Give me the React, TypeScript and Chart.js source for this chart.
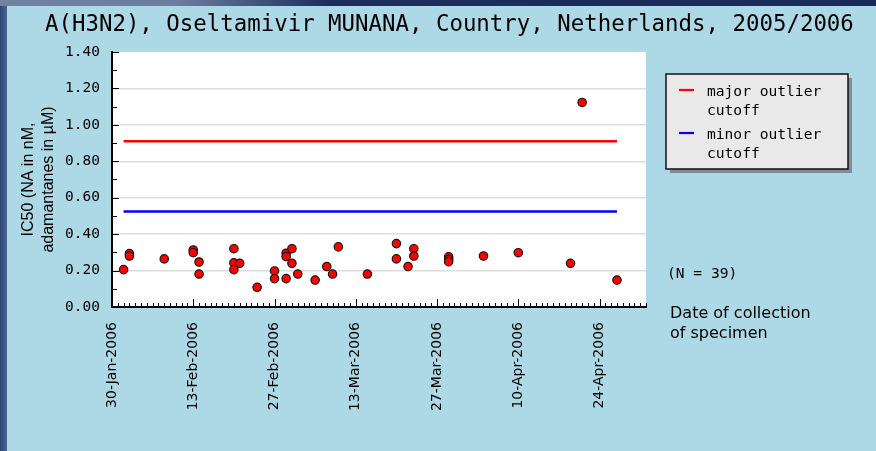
import React, { useEffect, useRef } from "react";
import { Chart, registerables } from "chart.js";

Chart.register(...registerables);

const chartTitle = "A(H3N2), Oseltamivir MUNANA, Country, Netherlands, 2005/2006";
const axisStartDate = "2006-01-30";
const axisEndDate = "2006-05-02";
const majorTickEveryDays = 14;
const xTickLabels = [
  "30-Jan-2006",
  "13-Feb-2006",
  "27-Feb-2006",
  "13-Mar-2006",
  "27-Mar-2006",
  "10-Apr-2006",
  "24-Apr-2006",
];
const collectionDates = [
  "2006-02-01", "2006-02-02", "2006-02-02", "2006-02-08", "2006-02-13",
  "2006-02-13", "2006-02-14", "2006-02-14", "2006-02-20", "2006-02-20",
  "2006-02-20", "2006-02-21", "2006-02-24", "2006-02-27", "2006-02-27",
  "2006-03-01", "2006-03-01", "2006-03-01", "2006-03-02", "2006-03-02",
  "2006-03-03", "2006-03-06", "2006-03-08", "2006-03-09", "2006-03-10",
  "2006-03-15", "2006-03-20", "2006-03-20", "2006-03-22", "2006-03-23",
  "2006-03-23", "2006-03-29", "2006-03-29", "2006-03-29", "2006-04-04",
  "2006-04-10", "2006-04-19", "2006-04-21", "2006-04-27",
];
const ic50Values = [
  0.205, 0.293, 0.28, 0.264, 0.313,
  0.298, 0.247, 0.181, 0.32, 0.242,
  0.205, 0.24, 0.108, 0.198, 0.156,
  0.295, 0.277, 0.156, 0.32, 0.24,
  0.181, 0.148, 0.222, 0.181, 0.33,
  0.181, 0.348, 0.264, 0.222, 0.32,
  0.28, 0.275, 0.262, 0.249, 0.28,
  0.298, 0.24, 1.123, 0.148,
];
const majorOutlierCutoff = 0.91;
const minorOutlierCutoff = 0.524;
const yMin = 0;
const yMax = 1.4;
const yMinorStep = 0.1;
const yAxisTitle = ["IC50 (NA in nM,", "adamantanes in \u00b5M)"];
const xAxisTitle = ["Date of collection", "of specimen"];
const legendLabels = ["major outlier cutoff", "minor outlier cutoff"];

const DAY_MS = 86400000;
const toDay = (iso: string) =>
  (Date.parse(iso + "T00:00:00Z") - Date.parse(axisStartDate + "T00:00:00Z")) / DAY_MS;

const MONO = '"DejaVu Sans Mono", monospace';
const SANS = '"DejaVu Sans", sans-serif';

function splitLabel(label: string): string[] {
  const i = label.lastIndexOf(" ");
  return i > 0 ? [label.slice(0, i), label.slice(i + 1)] : [label];
}

const decorPlugin = {
  id: "decor",
  beforeDraw(chart: any) {
    const { ctx, chartArea: a } = chart;
    ctx.save();
    ctx.fillStyle = "#ffffff";
    ctx.fillRect(a.left, a.top, a.right - a.left, a.bottom - a.top);
    ctx.restore();
  },
  afterDraw(chart: any) {
    const { ctx, chartArea: a, scales } = chart;
    const xs = scales.x;
    const ys = scales.y;
    ctx.save();
    // inward tick marks
    ctx.strokeStyle = "#000";
    ctx.lineWidth = 1;
    ctx.beginPath();
    for (let d = xs.min; d <= xs.max; d++) {
      const px = Math.round(xs.getPixelForValue(d)) + 0.5;
      const len = d % majorTickEveryDays === 0 ? 8 : 4;
      ctx.moveTo(px, a.bottom);
      ctx.lineTo(px, a.bottom - len);
    }
    const nY = Math.round((yMax - yMin) / yMinorStep);
    for (let i = 0; i <= nY; i++) {
      const v = yMin + i * yMinorStep;
      const py = Math.round(ys.getPixelForValue(v)) + 0.5;
      const len = i % 2 === 0 ? 7 : 5;
      ctx.moveTo(a.left, py);
      ctx.lineTo(a.left + len, py);
    }
    ctx.stroke();

    // title
    ctx.fillStyle = "#000";
    ctx.font = `22.4px ${MONO}`;
    ctx.textBaseline = "alphabetic";
    ctx.textAlign = "left";
    ctx.fillText(chartTitle, 45, 31);

    // legend box
    const bx = 666, by = 74, bw = 182, bh = 95;
    ctx.fillStyle = "#7d8e99";
    ctx.fillRect(bx + 4, by + 4, bw, bh);
    ctx.fillStyle = "#e9e9e9";
    ctx.fillRect(bx, by, bw, bh);
    ctx.strokeStyle = "#111";
    ctx.lineWidth = 1.5;
    ctx.strokeRect(bx, by, bw, bh);

    const ds = chart.data.datasets.slice(1);
    ctx.font = `14.6px ${MONO}`;
    ds.forEach((d: any, i: number) => {
      const base = by + 22 + i * 43;
      ctx.strokeStyle = d.borderColor;
      ctx.lineWidth = 2.2;
      ctx.beginPath();
      ctx.moveTo(679, base - 6);
      ctx.lineTo(694, base - 6);
      ctx.stroke();
      ctx.fillStyle = "#000";
      splitLabel(d.label).forEach((line, j) => {
        ctx.fillText(line, 707, base + j * 19);
      });
    });

    // N count
    ctx.fillStyle = "#000";
    ctx.font = `14.6px ${MONO}`;
    ctx.fillText(`(N = ${chart.data.datasets[0].data.length})`, 667, 278);

    // x axis title
    ctx.font = `16px ${SANS}`;
    xAxisTitle.forEach((line, j) => ctx.fillText(line, 670, 318 + j * 20));
    ctx.restore();
  },
};

export default function App() {
  const ref = useRef<HTMLCanvasElement>(null);

  useEffect(() => {
    if (!ref.current) return;
    const days = collectionDates.map(toDay);
    const points = days.map((d, i) => ({ x: d, y: ic50Values[i] }));
    const firstDay = Math.min(...days);
    const lastDay = Math.max(...days);
    const endDay = toDay(axisEndDate);

    const chart = new Chart(ref.current, {
      type: "scatter",
      data: {
        datasets: [
          {
            label: "specimens",
            data: points,
            pointRadius: 4.2,
            pointBackgroundColor: "#ff0000",
            pointBorderColor: "#151515",
            pointBorderWidth: 1.2,
            showLine: false,
            order: 0,
          },
          {
            label: legendLabels[0],
            data: [
              { x: firstDay, y: majorOutlierCutoff },
              { x: lastDay, y: majorOutlierCutoff },
            ],
            showLine: true,
            borderColor: "#ff0000",
            borderWidth: 2.4,
            pointRadius: 0,
            order: 1,
          },
          {
            label: legendLabels[1],
            data: [
              { x: firstDay, y: minorOutlierCutoff },
              { x: lastDay, y: minorOutlierCutoff },
            ],
            showLine: true,
            borderColor: "#0000ff",
            borderWidth: 2.4,
            pointRadius: 0,
            order: 2,
          },
        ],
      },
      options: {
        animation: false,
        responsive: false,
        devicePixelRatio: 1,
        layout: { padding: { top: 52, right: 230, left: 0, bottom: 0 } },
        plugins: {
          legend: { display: false },
          tooltip: { enabled: false },
          title: { display: false },
        },
        scales: {
          x: {
            type: "linear",
            min: 0,
            max: endDay,
            afterBuildTicks: (scale: any) => {
              const t = [];
              for (let d = 0; d <= endDay; d += majorTickEveryDays) t.push({ value: d });
              scale.ticks = t;
            },
            afterFit: (scale: any) => {
              scale.height = 144;
            },
            ticks: {
              autoSkip: false,
              maxRotation: 90,
              minRotation: 90,
              padding: 15,
              color: "#000",
              font: { family: "DejaVu Sans", size: 14 },
              callback: (v: any) => {
                const i = Math.round(Number(v) / majorTickEveryDays);
                return xTickLabels[i] ?? "";
              },
            },
            grid: { drawOnChartArea: false, drawTicks: false },
            border: { color: "#000", width: 2 },
          },
          y: {
            min: yMin,
            max: yMax,
            afterBuildTicks: (scale: any) => {
              const t = [];
              const n = Math.round((yMax - yMin) / yMinorStep);
              for (let i = 0; i <= n; i += 2) t.push({ value: yMin + i * yMinorStep });
              scale.ticks = t;
            },
            afterFit: (scale: any) => {
              scale.width = 112;
            },
            ticks: {
              padding: 12,
              color: "#000",
              font: { family: "DejaVu Sans Mono", size: 14.5 },
              callback: (v: any) => Number(v).toFixed(2),
            },
            grid: {
              drawTicks: false,
              lineWidth: 1.5,
              color: (c: any) =>
                c.tick && Math.abs(c.tick.value - yMax) < 1e-6 ? "rgba(0,0,0,0)" : "#dddddd",
            },
            border: { color: "#000", width: 2 },
            title: {
              display: true,
              text: yAxisTitle,
              color: "#000",
              font: { family: "Liberation Sans", size: 16, lineHeight: 1.25 },
              padding: { top: 19, bottom: 0 },
            },
          },
        },
      },
      plugins: [decorPlugin],
    } as any);
    return () => chart.destroy();
  }, []);

  return (
    <div
      style={{
        position: "fixed",
        left: 0,
        top: 0,
        width: 876,
        height: 451,
        background: "#add8e6",
        overflow: "hidden",
      }}
    >
      <canvas ref={ref} width={876} height={451} style={{ position: "absolute", left: 0, top: 0 }} />
      <div
        style={{
          position: "absolute",
          left: 0,
          top: 0,
          width: 876,
          height: 6,
          background: "linear-gradient(to right, #7083a3 0px, #6a7d9e 180px, #1d2d5c 330px, #1a2a58 876px)",
        }}
      />
      <div
        style={{
          position: "absolute",
          left: 0,
          top: 6,
          width: 7,
          height: 445,
          background: "linear-gradient(to right, #2f4674, #4a6596)",
        }}
      />
    </div>
  );
}
